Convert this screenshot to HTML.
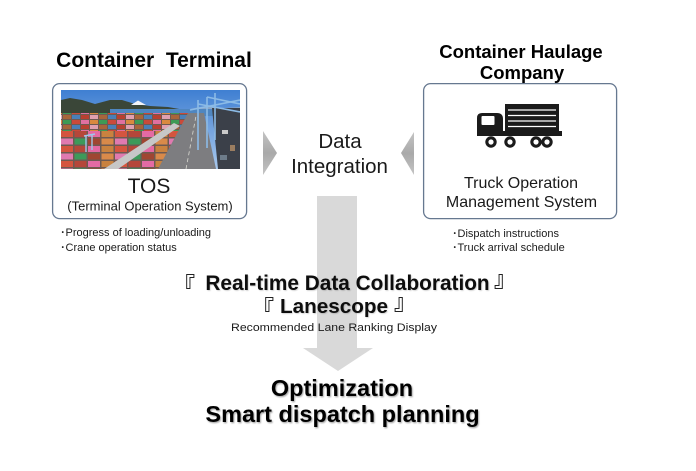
<!DOCTYPE html>
<html>
<head>
<meta charset="utf-8">
<style>
html,body{margin:0;padding:0;background:#fff;}
svg{display:block;}
text{font-family:"Liberation Sans","Noto Sans CJK JP",sans-serif;}
.br{font-family:"Noto Sans CJK JP",sans-serif;font-weight:bold;}
</style>
</head>
<body>
<svg width="696" height="471" viewBox="0 0 696 471" xmlns="http://www.w3.org/2000/svg">
<defs>
  <filter id="sh" x="-10%" y="-30%" width="120%" height="160%">
    <feDropShadow dx="1" dy="1.2" stdDeviation="0.9" flood-color="#000" flood-opacity="0.35"/>
  </filter>
  <filter id="sh2" x="-10%" y="-30%" width="120%" height="160%">
    <feDropShadow dx="0.8" dy="0.8" stdDeviation="0.6" flood-color="#000" flood-opacity="0.2"/>
  </filter>
  <linearGradient id="sky" x1="0" y1="0" x2="0" y2="1">
    <stop offset="0" stop-color="#3f7fd2"/>
    <stop offset="1" stop-color="#a9c8ec"/>
  </linearGradient>
  <linearGradient id="tri" x1="0" y1="0" x2="0" y2="1">
    <stop offset="0" stop-color="#c4c4c4"/>
    <stop offset="0.5" stop-color="#a9a9a9"/>
    <stop offset="1" stop-color="#c4c4c4"/>
  </linearGradient>
  <pattern id="cont" width="36" height="10" patternUnits="userSpaceOnUse">
    <rect width="36" height="10" fill="#6e5a52"/>
    <rect x="0" y="0" width="8" height="4" fill="#c94a3a"/>
    <rect x="9" y="0" width="8" height="4" fill="#e070a0"/>
    <rect x="18" y="0" width="8" height="4" fill="#d9893f"/>
    <rect x="27" y="0" width="8" height="4" fill="#3e9a55"/>
    <rect x="0" y="5" width="8" height="4" fill="#4a7fb8"/>
    <rect x="9" y="5" width="8" height="4" fill="#b84030"/>
    <rect x="18" y="5" width="8" height="4" fill="#e0a0b0"/>
    <rect x="27" y="5" width="8" height="4" fill="#a8653a"/>
  </pattern>
  <pattern id="cont2" width="36" height="10" patternUnits="userSpaceOnUse" patternTransform="translate(61,131) scale(1.5)">
    <rect width="36" height="10" fill="#6e5a52"/>
    <rect x="0" y="0" width="8" height="4" fill="#d4553f"/>
    <rect x="9" y="0" width="8" height="4" fill="#b5473a"/>
    <rect x="18" y="0" width="8" height="4" fill="#e46aa4"/>
    <rect x="27" y="0" width="8" height="4" fill="#c9823f"/>
    <rect x="0" y="5" width="8" height="4" fill="#e07ab0"/>
    <rect x="9" y="5" width="8" height="4" fill="#3d9a5a"/>
    <rect x="18" y="5" width="8" height="4" fill="#a04632"/>
    <rect x="27" y="5" width="8" height="4" fill="#d98a4a"/>
  </pattern>
  <clipPath id="imgclip"><rect x="61" y="90" width="179" height="79"/></clipPath>
</defs>

<rect width="696" height="471" fill="#fff"/>

<!-- Down arrow -->
<rect x="317" y="196" width="40" height="153" fill="#d9d9d9"/>
<polygon points="303,348 373,348 338,371" fill="#d9d9d9"/>

<!-- Left box -->
<rect x="52.6" y="83.6" width="194" height="135" rx="7" ry="7" fill="#fff" stroke="#667890" stroke-width="1.3"/>

<!-- Photo -->
<g clip-path="url(#imgclip)">
  <rect x="61" y="90" width="179" height="79" fill="url(#sky)"/>
  <polygon points="61,100 70,98 82,100 95,104 110,100 122,100 135,104 150,106 168,107 185,110 200,110 200,116 61,116" fill="#3a4638"/>
  <polygon points="131,105 138,100.5 146,105" fill="#f2f4f8"/>
  <polygon points="185,110 205,106 225,108 240,107 240,114 185,114" fill="#8aa6c8"/>
  <rect x="110" y="109" width="130" height="7" fill="#4f86c0"/>
  <polygon points="61,113 200,113 180,131 61,131" fill="url(#cont)"/>
  <polygon points="61,131 180,131 160,169 61,169" fill="url(#cont2)"/>
  <polygon points="104,169 118,169 180,126 174,123" fill="#c7c7c7"/>
  <polygon points="158,169 216,169 204,113 188,113" fill="#7d7d80"/>
  <line x1="186" y1="169" x2="196" y2="116" stroke="#d8d8d0" stroke-width="0.8" stroke-dasharray="4,3"/>
  <polygon points="212,108 240,108 240,169 218,169" fill="#3b4049"/>
  <rect x="222" y="130" width="6" height="4" fill="#c9c9c9"/>
  <rect x="230" y="145" width="5" height="6" fill="#9a7d60"/>
  <rect x="220" y="155" width="7" height="5" fill="#6d7c8a"/>
  <g stroke="#8cbbe6" stroke-width="1.6" fill="none">
    <line x1="198" y1="100" x2="198" y2="150"/>
    <line x1="207" y1="97" x2="207" y2="148"/>
    <line x1="215" y1="93" x2="215" y2="140"/>
    <line x1="190" y1="110" x2="240" y2="100"/>
    <line x1="198" y1="104" x2="240" y2="112"/>
    <line x1="207" y1="97" x2="240" y2="104"/>
  </g>
  <g stroke="#9fc6ea" stroke-width="1.4">
    <line x1="86" y1="136" x2="86" y2="152"/>
    <line x1="92" y1="134" x2="92" y2="150"/>
    <line x1="84" y1="136" x2="95" y2="134"/>
  </g>
</g>

<!-- Right box -->
<rect x="423.6" y="83.6" width="193" height="135" rx="7" ry="7" fill="#fff" stroke="#667890" stroke-width="1.3"/>

<!-- Truck -->
<g fill="#1b1b1b">
  <rect x="505" y="104" width="54" height="28"/>
  <path d="M477,136 L477,118 Q477,113 482,113 L497,113 Q503,113 503,119 L503,136 Z"/>
  <rect x="477" y="131" width="85" height="5"/>
  <circle cx="491" cy="142" r="5.7"/>
  <circle cx="510" cy="142" r="5.7"/>
  <circle cx="536" cy="142" r="5.7"/>
  <circle cx="547" cy="142" r="5.7"/>
</g>
<rect x="481.5" y="116" width="13" height="9" rx="1" fill="#fff"/>
<g stroke="#fff" stroke-width="1.3">
  <line x1="508" y1="110" x2="556" y2="110"/>
  <line x1="508" y1="115.5" x2="556" y2="115.5"/>
  <line x1="508" y1="121" x2="556" y2="121"/>
  <line x1="508" y1="126.5" x2="556" y2="126.5"/>
</g>
<g fill="#fff">
  <circle cx="491" cy="142" r="2.6"/>
  <circle cx="510" cy="142" r="2.6"/>
  <circle cx="536" cy="142" r="2.6"/>
  <circle cx="547" cy="142" r="2.6"/>
</g>

<!-- Triangles -->
<polygon points="263,131 277,153 263,175" fill="url(#tri)"/>
<polygon points="414,132 401,153 414,175" fill="url(#tri)"/>

<!-- Titles -->
<text x="154" y="67" font-size="21" font-weight="bold" text-anchor="middle" fill="#000">Container&#160; Terminal</text>
<text x="521" y="58" font-size="18.5" font-weight="bold" text-anchor="middle" fill="#000">Container Haulage</text>
<text x="522" y="79" font-size="18.5" font-weight="bold" text-anchor="middle" fill="#000">Company</text>

<!-- Left box text -->
<text x="149" y="193" font-size="21" text-anchor="middle" fill="#1a1a1a">TOS</text>
<text x="150" y="210.5" font-size="13" text-anchor="middle" fill="#1a1a1a">(Terminal Operation System)</text>

<!-- Right box text -->
<text x="521" y="188" font-size="16" text-anchor="middle" fill="#1a1a1a">Truck Operation</text>
<text x="521.5" y="207" font-size="16" text-anchor="middle" fill="#1a1a1a">Management System</text>

<!-- Bullets -->
<text x="60" y="236" font-size="11" fill="#1a1a1a">･Progress of loading/unloading</text>
<text x="60" y="251" font-size="11" fill="#1a1a1a">･Crane operation status</text>
<text x="452" y="237" font-size="11" fill="#1a1a1a">･Dispatch instructions</text>
<text x="452" y="251" font-size="11" fill="#1a1a1a">･Truck arrival schedule</text>

<!-- Data Integration -->
<text x="340" y="148" font-size="20.5" text-anchor="middle" fill="#1a1a1a">Data</text>
<text x="339.5" y="173" font-size="20.5" text-anchor="middle" fill="#1a1a1a">Integration</text>

<!-- Middle labels -->
<text x="173" y="293" font-size="22" class="br" fill="#222">『</text>
<text x="347.5" y="290" font-size="20.8" font-weight="bold" text-anchor="middle" fill="#111" filter="url(#sh2)">Real-time Data Collaboration</text>
<text x="494" y="287" font-size="22" class="br" fill="#222">』</text>

<text x="252" y="316" font-size="22" class="br" fill="#222">『</text>
<text x="334" y="313" font-size="20.7" font-weight="bold" text-anchor="middle" fill="#111" filter="url(#sh2)">Lanescope</text>
<text x="394" y="310" font-size="22" class="br" fill="#222">』</text>

<text x="334" y="331" font-size="11" text-anchor="middle" fill="#1a1a1a" textLength="206" lengthAdjust="spacingAndGlyphs">Recommended Lane Ranking Display</text>

<!-- Bottom -->
<text x="342" y="396" font-size="23.5" font-weight="bold" text-anchor="middle" fill="#000" filter="url(#sh)">Optimization</text>
<text x="342.5" y="422" font-size="23.5" font-weight="bold" text-anchor="middle" fill="#000" filter="url(#sh)">Smart dispatch planning</text>
</svg>
</body>
</html>
